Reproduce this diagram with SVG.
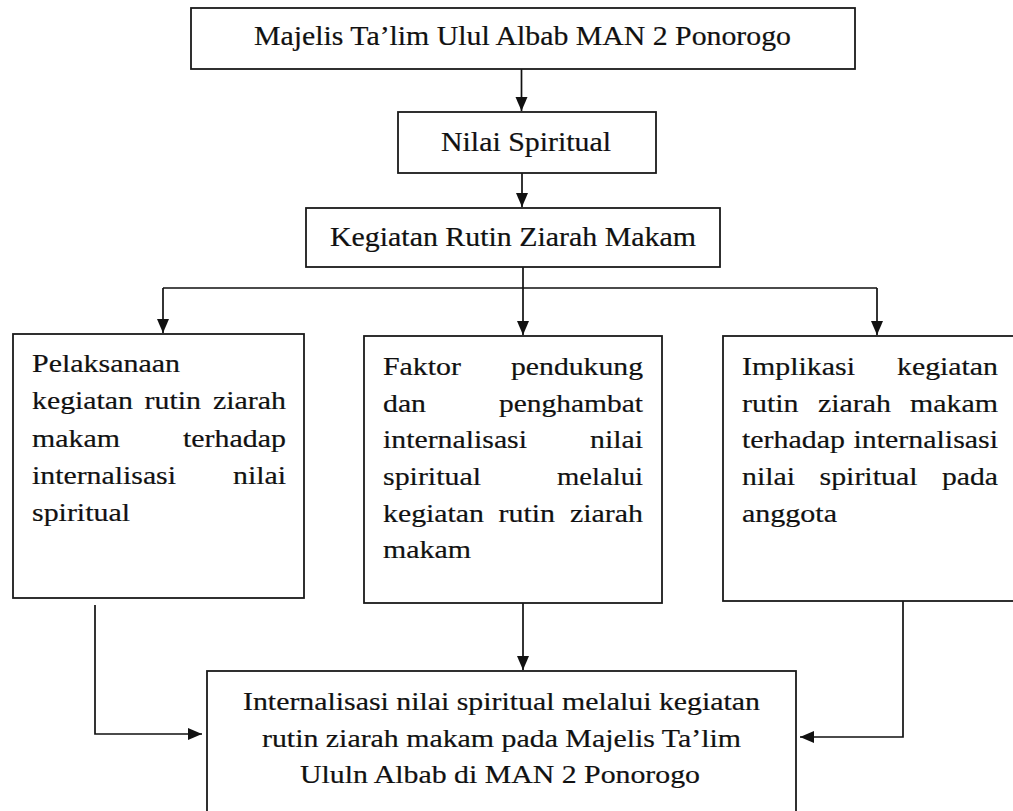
<svg xmlns="http://www.w3.org/2000/svg" width="1013" height="811" viewBox="0 0 1013 811">
<style>
.box{fill:#fff;stroke:#1a1a1a;stroke-width:1.8}
.t{font-family:"Liberation Serif","Times New Roman",serif;font-size:28px;fill:#111;stroke:#111;stroke-width:0.2}
.b{font-family:"Liberation Serif","Times New Roman",serif;font-size:26px;fill:#111;stroke:#111;stroke-width:0.2}
.c{fill:none;stroke:#111;stroke-width:1.7}
</style>
<defs>
<marker id="ah" markerUnits="userSpaceOnUse" markerWidth="15" markerHeight="13" refX="14" refY="6" orient="auto">
<path d="M0,0 L14,6 L0,12 Z" fill="#111"/>
</marker>
</defs>
<rect width="1013" height="811" fill="#fff"/>

<g id="connectors">
<path class="c" d="M521.5,69 V111" marker-end="url(#ah)"/>
<path class="c" d="M522,173 V207" marker-end="url(#ah)"/>
<path class="c" d="M523,267 V288 M163,288 H877"/>
<path class="c" d="M163,288 V333" marker-end="url(#ah)"/>
<path class="c" d="M523,288 V335" marker-end="url(#ah)"/>
<path class="c" d="M877,288 V335" marker-end="url(#ah)"/>
<path class="c" d="M95,605 V734 H202" marker-end="url(#ah)"/>
<path class="c" d="M523,603 V670" marker-end="url(#ah)"/>
<path class="c" d="M903,601 V737 H800" marker-end="url(#ah)"/>
</g>

<g id="n-majelis">
<rect class="box" x="191" y="8" width="664" height="61"/>
<text class="t" font-family="Liberation Serif, serif" x="254" y="45" textLength="537" lengthAdjust="spacingAndGlyphs">Majelis Ta’lim Ulul Albab MAN 2 Ponorogo</text>
</g>

<g id="n-nilai">
<rect class="box" x="398" y="112" width="258" height="61"/>
<text class="t" font-family="Liberation Serif, serif" x="441" y="151" textLength="170" lengthAdjust="spacingAndGlyphs">Nilai Spiritual</text>
</g>

<g id="n-kegiatan">
<rect class="box" x="306" y="208" width="414" height="59"/>
<text class="t" font-family="Liberation Serif, serif" x="330" y="246" textLength="366" lengthAdjust="spacingAndGlyphs">Kegiatan Rutin Ziarah Makam</text>
</g>

<g id="n-pelaksanaan" font-family="Liberation Serif, serif">
<rect class="box" x="13" y="334" width="291" height="264"/>
<text class="b" x="32" y="372" textLength="148" lengthAdjust="spacingAndGlyphs">Pelaksanaan</text>
<text class="b" x="32" y="409" textLength="101" lengthAdjust="spacingAndGlyphs">kegiatan</text>
<text class="b" x="144.5" y="409" textLength="56.5" lengthAdjust="spacingAndGlyphs">rutin</text>
<text class="b" x="213" y="409" textLength="73" lengthAdjust="spacingAndGlyphs">ziarah</text>
<text class="b" x="32" y="447" textLength="88" lengthAdjust="spacingAndGlyphs">makam</text>
<text class="b" x="183" y="447" textLength="103" lengthAdjust="spacingAndGlyphs">terhadap</text>
<text class="b" x="32" y="484" textLength="144" lengthAdjust="spacingAndGlyphs">internalisasi</text>
<text class="b" x="233" y="484" textLength="53" lengthAdjust="spacingAndGlyphs">nilai</text>
<text class="b" x="32" y="521" textLength="98" lengthAdjust="spacingAndGlyphs">spiritual</text>
</g>

<g id="n-faktor" font-family="Liberation Serif, serif">
<rect class="box" x="364" y="336" width="298" height="267"/>
<text class="b" x="383" y="375" textLength="78" lengthAdjust="spacingAndGlyphs">Faktor</text>
<text class="b" x="511" y="375" textLength="132" lengthAdjust="spacingAndGlyphs">pendukung</text>
<text class="b" x="383" y="412" textLength="43" lengthAdjust="spacingAndGlyphs">dan</text>
<text class="b" x="499" y="412" textLength="144" lengthAdjust="spacingAndGlyphs">penghambat</text>
<text class="b" x="383" y="448" textLength="144" lengthAdjust="spacingAndGlyphs">internalisasi</text>
<text class="b" x="590" y="448" textLength="53" lengthAdjust="spacingAndGlyphs">nilai</text>
<text class="b" x="383" y="485" textLength="98" lengthAdjust="spacingAndGlyphs">spiritual</text>
<text class="b" x="557" y="485" textLength="86" lengthAdjust="spacingAndGlyphs">melalui</text>
<text class="b" x="383" y="522" textLength="101" lengthAdjust="spacingAndGlyphs">kegiatan</text>
<text class="b" x="498.5" y="522" textLength="56.5" lengthAdjust="spacingAndGlyphs">rutin</text>
<text class="b" x="570" y="522" textLength="73" lengthAdjust="spacingAndGlyphs">ziarah</text>
<text class="b" x="383" y="558" textLength="88" lengthAdjust="spacingAndGlyphs">makam</text>
</g>

<g id="n-implikasi" font-family="Liberation Serif, serif">
<rect class="box" x="723" y="336" width="300" height="265"/>
<text class="b" x="742" y="375" textLength="113" lengthAdjust="spacingAndGlyphs">Implikasi</text>
<text class="b" x="897" y="375" textLength="101" lengthAdjust="spacingAndGlyphs">kegiatan</text>
<text class="b" x="742" y="412" textLength="56.5" lengthAdjust="spacingAndGlyphs">rutin</text>
<text class="b" x="818" y="412" textLength="73" lengthAdjust="spacingAndGlyphs">ziarah</text>
<text class="b" x="910" y="412" textLength="88" lengthAdjust="spacingAndGlyphs">makam</text>
<text class="b" x="742" y="448" textLength="103" lengthAdjust="spacingAndGlyphs">terhadap</text>
<text class="b" x="853.5" y="448" textLength="144.5" lengthAdjust="spacingAndGlyphs">internalisasi</text>
<text class="b" x="742" y="485" textLength="53" lengthAdjust="spacingAndGlyphs">nilai</text>
<text class="b" x="819.5" y="485" textLength="98" lengthAdjust="spacingAndGlyphs">spiritual</text>
<text class="b" x="942" y="485" textLength="56" lengthAdjust="spacingAndGlyphs">pada</text>
<text class="b" x="742" y="522" textLength="95" lengthAdjust="spacingAndGlyphs">anggota</text>
</g>

<g id="n-internalisasi" font-family="Liberation Serif, serif">
<rect class="box" x="207" y="671" width="589" height="160"/>
<text class="b" x="243" y="710" textLength="517" lengthAdjust="spacingAndGlyphs">Internalisasi nilai spiritual melalui kegiatan</text>
<text class="b" x="262" y="747" textLength="479" lengthAdjust="spacingAndGlyphs">rutin ziarah makam pada Majelis Ta’lim</text>
<text class="b" x="300" y="783" textLength="400" lengthAdjust="spacingAndGlyphs">Ululn Albab di MAN 2 Ponorogo</text>
</g>
</svg>
